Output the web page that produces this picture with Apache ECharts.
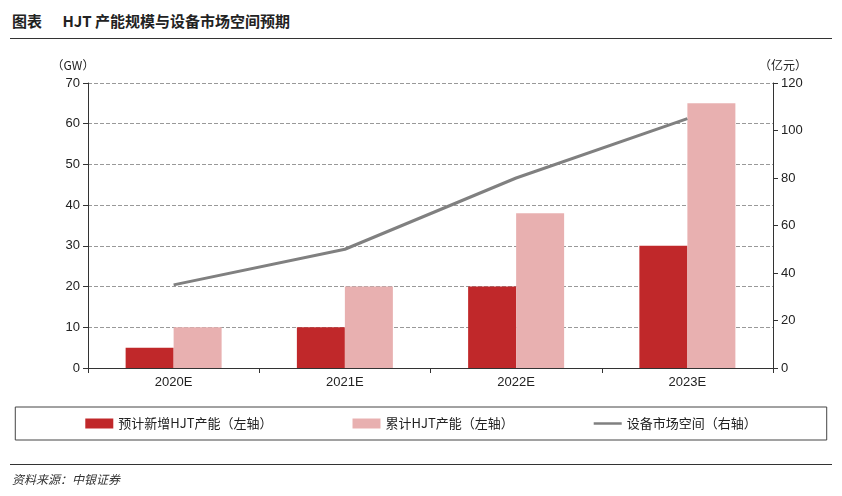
<!DOCTYPE html>
<html>
<head>
<meta charset="utf-8">
<script src="https://cdn.jsdelivr.net/npm/echarts@6/dist/echarts.min.js"></script>
<style>
body{margin:0;background:#fff;font-family:"Noto Sans CJK SC",sans-serif;}
#title{position:absolute;left:12px;top:10px;font-size:15px;font-weight:bold;color:#222;}
#tline{position:absolute;left:10px;top:38px;width:822px;border-top:1.5px solid #333;}
#sline{position:absolute;left:10px;top:464px;width:822px;border-top:1px solid #333;}
#src{position:absolute;left:12px;top:470px;font-size:12px;font-style:italic;color:#333;}
</style>
</head>
<body>
<div id="title">图表&nbsp;&nbsp;&nbsp;&nbsp;&nbsp;&nbsp;HJT 产能规模与设备市场空间预期</div>
<div id="tline"></div>
<div id="main" style="position:absolute;left:0;top:0;width:842px;height:496px;"></div>
<div id="sline"></div>
<div id="src">资料来源：中银证券</div>
<script>
var categories = ['2020E', '2021E', '2022E', '2023E'];
var newCap = [5, 10, 20, 30];
var totalCap = [10, 20, 38, 65];
var market = [35, 50, 80, 105];

var chart = echarts.init(document.getElementById('main'));
var font = {fontFamily: 'Liberation Sans, Noto Sans CJK SC', fontSize: 13, color: '#222'};
chart.setOption({
    animation: false,
    grid: {left: 88, right: 69, top: 83, bottom: 128},
    legend: {
        bottom: 56, left: 'center', itemGap: 80,
        borderColor: '#444', borderWidth: 1, padding: [10, 70],
        textStyle: {fontFamily: 'Noto Sans CJK SC', fontSize: 13, color: '#222'},
        data: [
            {name: '预计新增HJT产能（左轴）', icon: 'rect'},
            {name: '累计HJT产能（左轴）', icon: 'rect'},
            {name: '设备市场空间（右轴）', icon: 'path://M0,4L28,4L28,6.5L0,6.5Z'}
        ],
        itemWidth: 28, itemHeight: 10
    },
    xAxis: {
        type: 'category', data: categories,
        axisLine: {lineStyle: {color: '#333'}},
        axisTick: {show: true, lineStyle: {color: '#333'}},
        axisLabel: font
    },
    yAxis: [{
        type: 'value', min: 0, max: 70, interval: 10,
        name: '（GW）', nameGap: 12, nameTextStyle: {fontFamily: 'Noto Sans CJK SC', fontSize: 12, color: '#222', padding: [0, 30, 0, 0]},
        axisLine: {show: true, lineStyle: {color: '#333'}},
        axisTick: {show: true, lineStyle: {color: '#333'}},
        axisLabel: font,
        splitLine: {lineStyle: {color: '#999', type: 'dashed'}}
    }, {
        type: 'value', min: 0, max: 120, interval: 20,
        name: '（亿元）', nameGap: 12, nameTextStyle: {fontFamily: 'Noto Sans CJK SC', fontSize: 12, color: '#222', padding: [0, 0, 0, 20]},
        axisLine: {show: true, lineStyle: {color: '#333'}},
        axisTick: {show: true, lineStyle: {color: '#333'}},
        axisLabel: font,
        splitLine: {show: false}
    }],
    series: [{
        name: '预计新增HJT产能（左轴）', type: 'bar', data: newCap,
        barWidth: 48, barGap: '0%', itemStyle: {color: '#C0282A'}
    }, {
        name: '累计HJT产能（左轴）', type: 'bar', data: totalCap,
        barWidth: 48, itemStyle: {color: '#E8B0B0'}
    }, {
        name: '设备市场空间（右轴）', type: 'line', yAxisIndex: 1, data: market,
        symbol: 'none', lineStyle: {color: '#808080', width: 3}, itemStyle: {color: '#808080'}
    }]
});
</script>
</body>
</html>
